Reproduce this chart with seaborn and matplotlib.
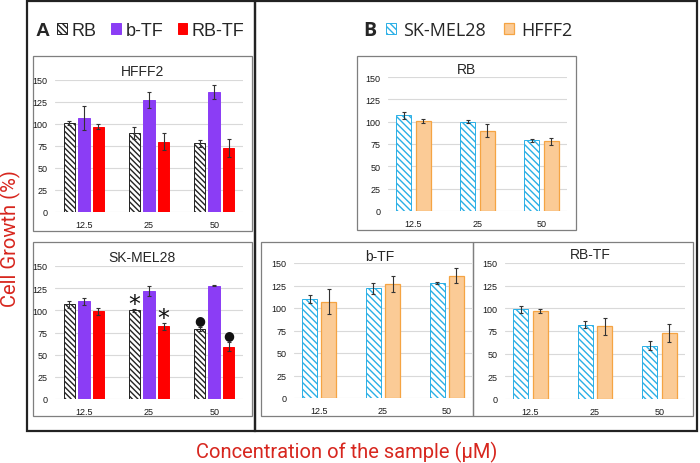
import seaborn as sns
import pandas as pd
import matplotlib.pyplot as plt
from matplotlib.patches import Rectangle

# data (cell growth %, mean and error)
conc = ["12.5", "25", "50"]

rb_sk = [107, 100, 79]
rb_sk_err = [4, 2, 2]
rb_hf = [101, 90, 78]
rb_hf_err = [2, 7, 4]

btf_sk = [110, 122, 128]
btf_sk_err = [4, 6, 1]
btf_hf = [107, 127, 136]
btf_hf_err = [14, 9, 8]

rbtf_sk = [99, 82, 59]
rbtf_sk_err = [4, 4, 5]
rbtf_hf = [97, 80, 73]
rbtf_hf_err = [2.5, 9.5, 10]

treatments = ["RB", "b-TF", "RB-TF"]
cells = ["SK-MEL28", "HFFF2"]

# significance marks on panel A / SK-MEL28: (mark, treatment, conc)
marks = [("*", "RB", "25"), ("*", "RB-TF", "25"),
         ("●", "RB", "50"), ("●", "RB-TF", "50")]

W, H = 700, 464
RED_LABEL = "#D7261E"

sns.set_theme(style="white")
plt.rcParams["font.family"] = ["Liberation Sans", "DejaVu Sans"]
plt.rcParams["hatch.linewidth"] = 1.0

fig = plt.figure(figsize=(W / 100, H / 100), dpi=100)


def fx(x):
    return x / W


def fy(y):
    return 1 - y / H


def box(x0, y0, x1, y1, lw, color):
    fig.add_artist(Rectangle((fx(x0), fy(y1)), (x1 - x0) / W, (y1 - y0) / H,
                             transform=fig.transFigure, fill=False,
                             lw=lw, ec=color, zorder=0))


def make_ax(x0, y0, x1, y1):
    return fig.add_axes([fx(x0), fy(y1), (x1 - x0) / W, (y1 - y0) / H])


def draw(ax, names, values, errors, styles, width, gap):
    df = pd.DataFrame({
        "conc": conc * len(names),
        "group": [n for n in names for _ in conc],
        "value": [v for vals in values for v in vals],
    })
    palette = {n: styles[n]["face"] for n in names}
    sns.barplot(data=df, x="conc", y="value", hue="group", order=conc,
                hue_order=names, palette=palette, saturation=1,
                width=width, gap=gap, errorbar=None, legend=False, ax=ax)
    bars = {}
    for name, cont, errs in zip(names, ax.containers, errors):
        st = styles[name]
        xs, tops = [], []
        for p in cont:
            p.set_edgecolor(st["edge"])
            p.set_linewidth(st.get("lw", 0.7))
            if st.get("hatch"):
                p.set_hatch(st["hatch"])
            xs.append(p.get_x() + p.get_width() / 2)
            tops.append(p.get_height())
        ax.errorbar(xs, tops, yerr=errs, fmt="none", ecolor="#333333",
                    elinewidth=0.8, capsize=1.5, capthick=0.8, zorder=5)
        bars[name] = list(zip(xs, tops, errs))
    ax.set_ylim(0, 150)
    ax.set_yticks(range(0, 151, 25))
    ax.yaxis.grid(True, color="#D9D9D9", lw=0.8)
    ax.set_axisbelow(True)
    sns.despine(ax=ax, left=True, bottom=True)
    ax.set_xlabel("")
    ax.set_ylabel("")
    ax.tick_params(length=0, labelsize=6.5, colors="#1A1A1A", pad=5.5)
    ax.set_facecolor("none")
    return bars


styles_a = {
    "RB": {"face": "white", "edge": "#222222", "hatch": "\\\\\\\\\\\\"},
    "b-TF": {"face": "#8B3DF5", "edge": "#8B3DF5"},
    "RB-TF": {"face": "#FF0000", "edge": "#FF0000"},
}
styles_b = {
    "SK-MEL28": {"face": "white", "edge": "#2AAFE6", "hatch": "\\\\\\\\\\"},
    "HFFF2": {"face": "#FBCB96", "edge": "#F5A443", "lw": 0.9},
}

# outer boxes
box(27, 2, 255, 432, 1.6, "#222222")
box(255, 2, 697, 432, 1.6, "#222222")
# inner boxes
box(33, 57, 252, 232, 0.9, "#7F7F7F")
box(33, 243, 252, 417, 0.9, "#7F7F7F")
box(357, 57, 576, 231, 0.9, "#7F7F7F")
box(261, 243, 473, 417, 0.9, "#7F7F7F")
box(473, 243, 693, 417, 0.9, "#7F7F7F")

# panel A
ax = make_ax(55, 81, 243, 213)
draw(ax, treatments, [rb_hf, btf_hf, rbtf_hf],
     [rb_hf_err, btf_hf_err, rbtf_hf_err], styles_a, 0.667, 0.21)
fig.text(fx(143), fy(72), "HFFF2", ha="center", va="center", fontsize=10)

ax = make_ax(55, 267, 243, 400)
bars = draw(ax, treatments, [rb_sk, btf_sk, rbtf_sk],
            [rb_sk_err, btf_sk_err, rbtf_sk_err], styles_a, 0.667, 0.21)
fig.text(fx(142), fy(258), "SK-MEL28", ha="center", va="center", fontsize=10)
for m, t, c in marks:
    x, top, e = bars[t][conc.index(c)]
    if m == "*":
        ax.annotate(m, (x, top + e), xytext=(0, -5), textcoords="offset points",
                    ha="center", va="bottom", fontsize=17, color="#111111",
                    family=["DejaVu Sans"])
    else:
        ax.annotate(m, (x, top + e), xytext=(0, 1), textcoords="offset points",
                    ha="center", va="bottom", fontsize=9, color="#111111",
                    family=["DejaVu Sans"])

handles = [c.patches[0] for c in ax.containers[:3]]
fig.legend(handles, treatments, loc="center left",
           bbox_to_anchor=(fx(57), fy(31)), ncol=3, frameon=False,
           fontsize=13, handlelength=0.55, handleheight=0.55,
           handletextpad=0.25, columnspacing=0.8, borderpad=0,
           borderaxespad=0)
fig.text(fx(43), fy(31), "A", ha="center", va="center", fontsize=14,
         fontweight="bold")

# panel B
ax = make_ax(388, 78, 567, 212)
draw(ax, cells, [rb_sk, rb_hf], [rb_sk_err, rb_hf_err], styles_b, 0.605, 0.22)
fig.text(fx(467), fy(70), "RB", ha="center", va="center", fontsize=10)
handles = [c.patches[0] for c in ax.containers[:2]]

ax = make_ax(294, 264, 472, 399)
draw(ax, cells, [btf_sk, btf_hf], [btf_sk_err, btf_hf_err], styles_b, 0.605, 0.22)
fig.text(fx(380), fy(257), "b-TF", ha="center", va="center", fontsize=10)

ax = make_ax(505, 264, 685, 400)
draw(ax, cells, [rbtf_sk, rbtf_hf], [rbtf_sk_err, rbtf_hf_err], styles_b, 0.605, 0.22)
fig.text(fx(590), fy(255), "RB-TF", ha="center", va="center", fontsize=10)

fig.legend(handles, cells, loc="center left",
           bbox_to_anchor=(fx(386), fy(31)), ncol=2, frameon=False,
           prop={"family": "Open Sans", "size": 13},
           handlelength=0.55, handleheight=0.55,
           handletextpad=0.4, columnspacing=1.0, borderpad=0,
           borderaxespad=0)
fig.text(fx(370), fy(31), "B", ha="center", va="center", fontsize=14,
         fontweight="bold", family=["Open Sans", "DejaVu Sans"])

# shared axis labels
fig.text(fx(10), fy(239), "Cell Growth (%)", rotation=90, ha="center",
         va="center", fontsize=14.5, color=RED_LABEL, family=["Roboto", "DejaVu Sans"])
fig.text(fx(347), fy(452), "Concentration of the sample (μM)", ha="center",
         va="center", fontsize=14.5, color=RED_LABEL, family=["Roboto", "DejaVu Sans"])

fig.savefig("out.png", dpi=100)
